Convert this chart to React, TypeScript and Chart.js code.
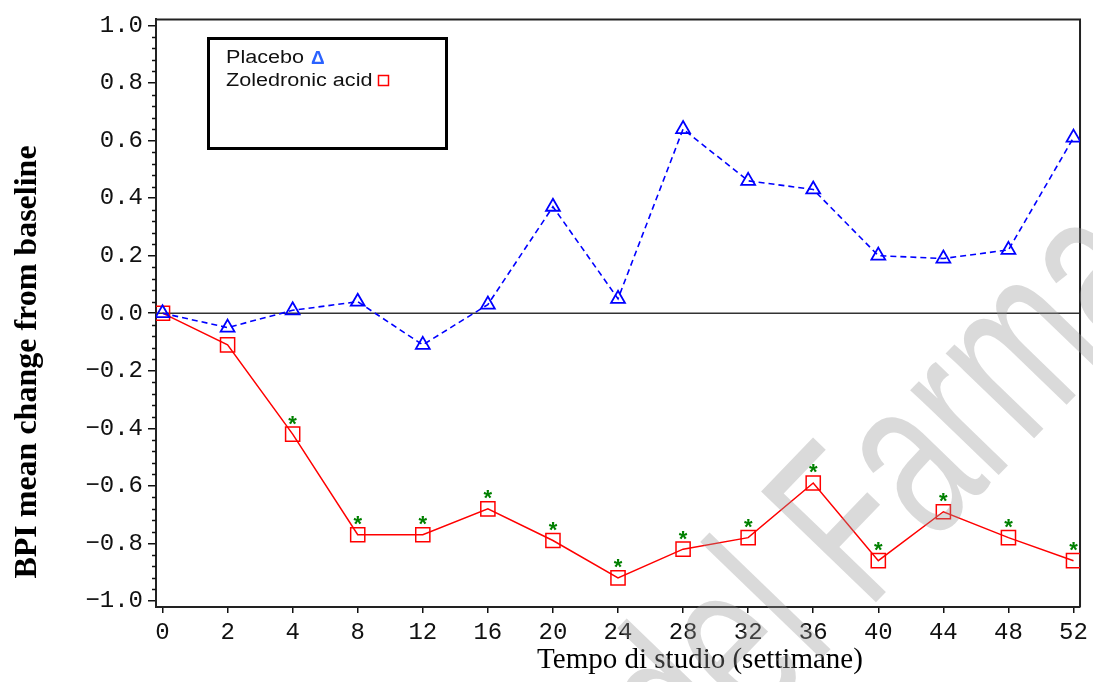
import React, { useEffect, useRef } from "react";
import { Chart, registerables } from "chart.js";

Chart.register(...registerables);

// ---- data ----
const weeks = ["0", "2", "4", "8", "12", "16", "20", "24", "28", "32", "36", "40", "44", "48", "52"];
const placebo = [0.0, -0.05, 0.01, 0.04, -0.11, 0.03, 0.37, 0.05, 0.64, 0.46, 0.43, 0.2, 0.19, 0.22, 0.61];
const zoledronic = [0.0, -0.11, -0.42, -0.77, -0.77, -0.68, -0.79, -0.92, -0.82, -0.78, -0.59, -0.86, -0.69, -0.78, -0.86];
const significant = [false, false, true, true, true, true, true, true, true, true, true, true, true, true, true];
const yTicks = [-1.0, -0.8, -0.6, -0.4, -0.2, 0.0, 0.2, 0.4, 0.6, 0.8, 1.0];
const yMinorStep = 0.04;
const seriesLabels = ["Placebo", "Zoledronic acid"];
const xTitle = "Tempo di studio (settimane)";
const yTitle = "BPI mean change from baseline";
const watermark = "del Farmaco";

const BLUE = "#0000ff";
const RED = "#ff0000";
const GREEN = "#008000";

const fmtY = (v: number) => {
  const s = Math.abs(v).toFixed(1);
  return v < -1e-9 ? "\u2212" + s : s;
};

const decorPlugin = {
  id: "decor",
  beforeDatasetsDraw(chart: any) {
    const { ctx, chartArea, scales } = chart;
    const y = scales.y;
    ctx.save();
    // zero line
    const y0 = y.getPixelForValue(0);
    ctx.strokeStyle = "#333";
    ctx.lineWidth = 1.5;
    ctx.beginPath();
    ctx.moveTo(chartArea.left, y0);
    ctx.lineTo(chartArea.right, y0);
    ctx.stroke();
    // top & right frame
    ctx.strokeStyle = "#222";
    ctx.lineWidth = 2;
    ctx.beginPath();
    ctx.moveTo(chartArea.left, chartArea.top);
    ctx.lineTo(chartArea.right, chartArea.top);
    ctx.lineTo(chartArea.right, chartArea.bottom);
    ctx.stroke();
    // minor ticks on y
    ctx.lineWidth = 1.5;
    ctx.strokeStyle = "#111";
    const lo = yTicks[0];
    const hi = yTicks[yTicks.length - 1];
    const n = Math.round((hi - lo) / yMinorStep);
    for (let i = 0; i <= n; i++) {
      const v = lo + i * yMinorStep;
      if (i % 5 === 0) continue;
      const p = Math.round(y.getPixelForValue(v)) + 0.5;
      ctx.beginPath();
      ctx.moveTo(chartArea.left - 4, p);
      ctx.lineTo(chartArea.left, p);
      ctx.stroke();
    }
    ctx.restore();
  },
  afterDatasetsDraw(chart: any) {
    const { ctx } = chart;
    const meta = chart.getDatasetMeta(1);
    ctx.save();
    ctx.fillStyle = GREEN;
    ctx.font = "bold 22px 'Liberation Sans'";
    ctx.textAlign = "center";
    ctx.textBaseline = "alphabetic";
    meta.data.forEach((pt: any, i: number) => {
      if (!significant[i]) return;
      ctx.fillText("*", pt.x, pt.y - 3.5);
    });
    ctx.restore();
  },
  afterDraw(chart: any) {
    const { ctx } = chart;
    ctx.save();
    // legend box
    ctx.strokeStyle = "#000";
    ctx.lineWidth = 3;
    ctx.strokeRect(208.5, 38.5, 238, 110);
    ctx.fillStyle = "#111";
    ctx.textBaseline = "alphabetic";
    ctx.textAlign = "left";
    ctx.font = "18px 'Liberation Sans'";
    ctx.save();
    ctx.translate(226, 63);
    ctx.scale(1.2, 1);
    ctx.fillText(seriesLabels[0], 0, 0);
    ctx.restore();
    ctx.save();
    ctx.translate(226, 86);
    ctx.scale(1.2, 1);
    ctx.fillText(seriesLabels[1], 0, 0);
    ctx.restore();
    ctx.fillStyle = "#2a62ff";
    ctx.font = "bold 19px 'Liberation Sans'";
    ctx.fillText("\u0394", 311, 63.5);
    ctx.strokeStyle = RED;
    ctx.lineWidth = 1.5;
    ctx.strokeRect(378.5, 75.5, 10, 10);

    // axis titles
    ctx.fillStyle = "#000";
    ctx.font = "29px 'Liberation Serif'";
    ctx.textAlign = "center";
    ctx.fillText(xTitle, 700, 668);
    ctx.save();
    ctx.translate(36, 362);
    ctx.rotate(-Math.PI / 2);
    ctx.font = "bold 32px 'Liberation Serif'";
    ctx.fillText(yTitle, 0, 0);
    ctx.restore();

    // watermark
    ctx.save();
    ctx.font = "232px 'Liberation Sans'";
    ctx.fillStyle = "rgba(150,150,150,0.35)";
    ctx.textAlign = "left";
    const pre = ctx.measureText("del ").width;
    ctx.translate(880, 598);
    ctx.rotate(-46 * Math.PI / 180);
    ctx.scale(0.66, 1);
    ctx.fillText(watermark, -pre - 28, 0);
    ctx.restore();

    ctx.restore();
  },
};

export default function App() {
  const ref = useRef<HTMLCanvasElement | null>(null);
  useEffect(() => {
    if (!ref.current) return;
    const chart = new Chart(ref.current, {
      type: "line",
      data: {
        datasets: [
          {
            label: seriesLabels[0],
            data: placebo.map((v, i) => ({ x: i, y: v })),
            borderColor: BLUE,
            borderWidth: 1.6,
            borderDash: [6, 4],
            pointStyle: "triangle",
            pointRadius: 8,
            pointBorderColor: BLUE,
            pointBackgroundColor: "rgba(0,0,0,0)",
            pointBorderWidth: 1.8,
            tension: 0,
          },
          {
            label: seriesLabels[1],
            data: zoledronic.map((v, i) => ({ x: i, y: v })),
            borderColor: RED,
            borderWidth: 1.5,
            pointStyle: "rect",
            pointRadius: 10,
            pointBorderColor: RED,
            pointBackgroundColor: "rgba(0,0,0,0)",
            pointBorderWidth: 1.5,
            tension: 0,
          },
        ],
      },
      options: {
        animation: false,
        responsive: false,
        events: [],
        layout: { padding: { top: 18, right: 9, left: 0, bottom: 0 } },
        plugins: {
          legend: { display: false },
          tooltip: { enabled: false },
          title: { display: false },
        },
        scales: {
          x: {
            type: "linear",
            min: -0.1,
            max: 14.1,
            afterBuildTicks: (s: any) => {
              s.ticks = weeks.map((_, i) => ({ value: i }));
            },
            afterFit: (s: any) => {
              s.height = 75;
            },
            ticks: {
              autoSkip: false,
              maxRotation: 0,
              padding: 5,
              color: "#111",
              font: { family: "'Liberation Mono'", size: 24 },
              callback: (v: any) => weeks[Math.round(Number(v))] ?? "",
            },
            grid: {
              display: true,
              drawOnChartArea: false,
              drawTicks: true,
              tickLength: 6,
              color: "#111",
              lineWidth: 1.5,
            },
            border: { display: true, color: "#222", width: 2 },
          },
          y: {
            type: "linear",
            min: -1.021,
            max: 1.021,
            afterBuildTicks: (s: any) => {
              s.ticks = yTicks.map((v) => ({ value: v }));
            },
            afterFit: (s: any) => {
              s.width = 156;
            },
            ticks: {
              autoSkip: false,
              padding: 5,
              color: "#111",
              font: { family: "'Liberation Mono'", size: 24 },
              callback: (v: any) => fmtY(Number(v)),
            },
            grid: {
              display: true,
              drawOnChartArea: false,
              drawTicks: true,
              tickLength: 8,
              color: "#111",
              lineWidth: 1.5,
            },
            border: { display: true, color: "#222", width: 2 },
          },
        },
      },
      plugins: [decorPlugin],
    } as any);
    return () => chart.destroy();
  }, []);
  return (
    <div style={{ position: "absolute", left: 0, top: 0, width: 1093, height: 682, background: "#fff" }}>
      <canvas ref={ref} width={1093} height={682} style={{ display: "block" }} />
    </div>
  );
}
